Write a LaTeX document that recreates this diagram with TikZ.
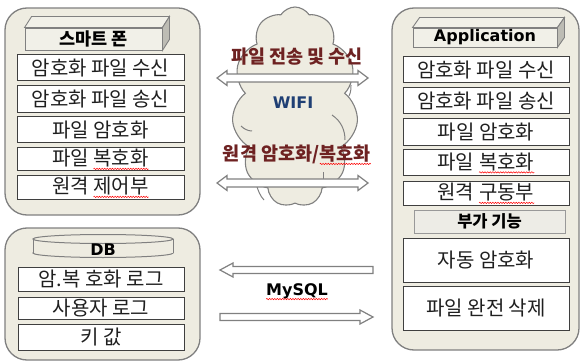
\documentclass[tikz,border=0pt]{standalone}
\usepackage{fontspec}
\setmainfont{Noto Sans CJK KR}
\newfontfamily\latfont{DejaVu Sans}
\usetikzlibrary{shapes.symbols,calc,decorations.pathmorphing}
\definecolor{panelfill}{HTML}{EEECE1}
\definecolor{panelborder}{HTML}{808080}
\definecolor{itemborder}{HTML}{3F3F3F}
\definecolor{headfill}{HTML}{F1F0E8}
\definecolor{sidefill}{HTML}{BDBCB4}
\definecolor{cloudfill}{HTML}{EEECE1}
\definecolor{redtxt}{HTML}{6E2222}
\definecolor{bluetxt}{HTML}{1F3F74}
\definecolor{extrafill}{HTML}{EDECE6}
\newcommand\sq[1]{\tikz[baseline=(sqw.base)]{\node[inner sep=0pt, outer sep=0pt, minimum width=0pt, minimum height=0pt, draw=none, fill=none, shape=rectangle] (sqw) {#1}; \draw[red, line width=0.5pt, decorate, decoration={snake, amplitude=0.7pt, segment length=2.6pt}] ([yshift=-3.2pt]sqw.base west) -- ([yshift=-3.2pt]sqw.base east);}}
\begin{document}
\begin{tikzpicture}[x=1pt,y=-1pt,
  panel/.style={draw=panelborder, fill=panelfill, line width=1.3pt, rounded corners=22pt, inner sep=0pt},
  item/.style={draw=itemborder, fill=white, line width=1pt, inner sep=0pt, text=black!88, font=\fontsize{20}{22}\selectfont},
  head/.style={draw=panelborder, fill=headfill, line width=0.9pt, inner sep=0pt},
  headside/.style={draw=panelborder, fill=sidefill, line width=0.9pt},
  cyl/.style={draw=panelborder, fill=panelfill, line width=1pt},
  blockarrow/.style={draw=panelborder, fill=white, line width=1.2pt, line join=miter},
  cloudtxt/.style={text=redtxt, font=\fontsize{18.5}{20}\selectfont\bfseries, inner sep=0pt},
  lattxt/.style={font=\latfont\fontsize{16}{18}\selectfont\bfseries, inner sep=0pt},
  innerarc/.style={draw=panelborder, line width=1pt}
]
\useasboundingbox (0,0) rectangle (585,363);

% ---------- smart phone panel ----------
\node[panel, minimum width=195pt, minimum height=207pt] (phone) at (102.5,111.5) {};
\node[head, minimum width=137pt, minimum height=22pt, font=\fontsize{17.5}{19}\selectfont\bfseries] (phoneh) at (93.5,39) {스마트 폰};
\draw[head] (phoneh.north west) -- ++(7,-11) -- ([shift={(7,-11)}]phoneh.north east) -- (phoneh.north east) -- cycle;
\draw[headside] (phoneh.north east) -- ++(7,-11) -- ([shift={(7,-11)}]phoneh.south east) -- (phoneh.south east) -- cycle;
\node[item, minimum width=167pt, minimum height=26pt] (p1) at (100.5,68) {암호화 파일 수신};
\node[item, minimum width=167pt, minimum height=27pt] (p2) at (100.5,99.5) {암호화 파일 송신};
\node[item, minimum width=167pt, minimum height=26pt] (p3) at (100.5,130) {파일 암호화};
\node[item, minimum width=167pt, minimum height=23pt] (p4) at (100.5,159.5) {파일 \sq{복호화}};
\node[item, minimum width=167pt, minimum height=23pt] (p5) at (100.5,187.5) {원격 \sq{제어부}};

% ---------- application panel ----------
\node[panel, minimum width=187pt, minimum height=342pt] (app) at (485.5,179) {};
\node[head, minimum width=144pt, minimum height=19pt, lattxt] (apph) at (485,37.5) {Application};
\draw[head] (apph.north west) -- ++(7,-10) -- ([shift={(7,-10)}]apph.north east) -- (apph.north east) -- cycle;
\draw[headside] (apph.north east) -- ++(7,-10) -- ([shift={(7,-10)}]apph.south east) -- (apph.south east) -- cycle;
\node[item, minimum width=166pt, minimum height=26pt] (a1) at (486,70) {암호화 파일 수신};
\node[item, minimum width=166pt, minimum height=26pt] (a2) at (486,101) {암호화 파일 송신};
\node[item, minimum width=166pt, minimum height=27pt] (a3) at (486,132.5) {파일 암호화};
\node[item, minimum width=166pt, minimum height=26pt] (a4) at (486,163) {파일 \sq{복호화}};
\node[item, minimum width=166pt, minimum height=23pt] (a5) at (486,193.5) {원격 \sq{구동부}};
\node[draw=panelborder!80, fill=extrafill, line width=0.9pt, inner sep=0pt, minimum width=151pt, minimum height=23pt, font=\fontsize{16.5}{18}\selectfont\bfseries] (extra) at (489.5,221.5) {부가 기능};
\node[item, minimum width=166pt, minimum height=44pt] (a6) at (486,260) {자동 암호화};
\node[item, minimum width=166pt, minimum height=44pt] (a7) at (486,308) {파일 완전 삭제};

% ---------- DB panel ----------
\node[panel, minimum width=195pt, minimum height=132pt] (dbp) at (102.5,294) {};
\draw[cyl] (103,253) ellipse [x radius=70pt, y radius=4.5pt];
\fill[panelfill] (33,239) rectangle (173,253);
\draw[draw=panelborder, line width=1pt] (33,239) -- (33,253) (173,239) -- (173,253);
\draw[cyl] (103,239) ellipse [x radius=70pt, y radius=4.5pt];
\node[lattxt] (dbt) at (103,250) {DB};
\node[item, minimum width=166pt, minimum height=24pt] (d1) at (101,279) {암.복 호화 로그};
\node[item, minimum width=166pt, minimum height=22pt] (d2) at (101,308) {사용자 로그};
\node[item, minimum width=166pt, minimum height=26pt] (d3) at (101,337) {키 값};

% ---------- cloud ----------
\node[cloud, cloud puffs=11, cloud puff arc=115, cloud ignores aspect, minimum width=126pt, minimum height=200pt, draw=panelborder, fill=cloudfill, line width=1.1pt] (wifi) at (295,107) {};
% inner arcs of the cloud
\draw[innerarc] (332,115) .. controls (341,121) and (345,130) .. (345,140);
\draw[innerarc] (241,126) .. controls (244,129) and (248,131) .. (252,131);
\draw[innerarc] (349,96) .. controls (351,92) and (351,88) .. (351,85);
\draw[innerarc] (323,172) -- (323,188);
\draw[innerarc] (256,184) .. controls (258,190) and (260,196) .. (264,200);
\node[cloudtxt] (t1) at (297,57) {파일 전송 및 수신};
\node[lattxt, text=bluetxt] (wf) at (293,103) {WIFI};
\node[cloudtxt] (t2) at (297,155) {원격 암호화/\sq{복호화}};

% double arrows
\coordinate (da1) at (217,78);
\coordinate (da2) at (217,183);
\draw[blockarrow] (da1) -- ++(10,-7.5) -- ++(0,3.5) -- ++(131,0) -- ++(0,-3.5) -- ++(10,7.5) -- ++(-10,7.5) -- ++(0,-3.5) -- ++(-131,0) -- ++(0,3.5) -- cycle;
\draw[blockarrow] (da2) -- ++(10,-7.5) -- ++(0,3.5) -- ++(131,0) -- ++(0,-3.5) -- ++(10,7.5) -- ++(-10,7.5) -- ++(0,-3.5) -- ++(-131,0) -- ++(0,3.5) -- cycle;

% MySQL arrows
\coordinate (ma1) at (220,270);
\coordinate (ma2) at (373,317);
\draw[blockarrow] (ma1) -- ++(13,-7) -- ++(0,3.5) -- ++(140,0) -- ++(0,7) -- ++(-140,0) -- ++(0,3.5) -- cycle;
\draw[blockarrow] (ma2) -- ++(-13,-7) -- ++(0,3.5) -- ++(-140,0) -- ++(0,7) -- ++(140,0) -- ++(0,3.5) -- cycle;
\node[lattxt] (my) at (297,292) {\sq{MySQL}};
\end{tikzpicture}
\end{document}
